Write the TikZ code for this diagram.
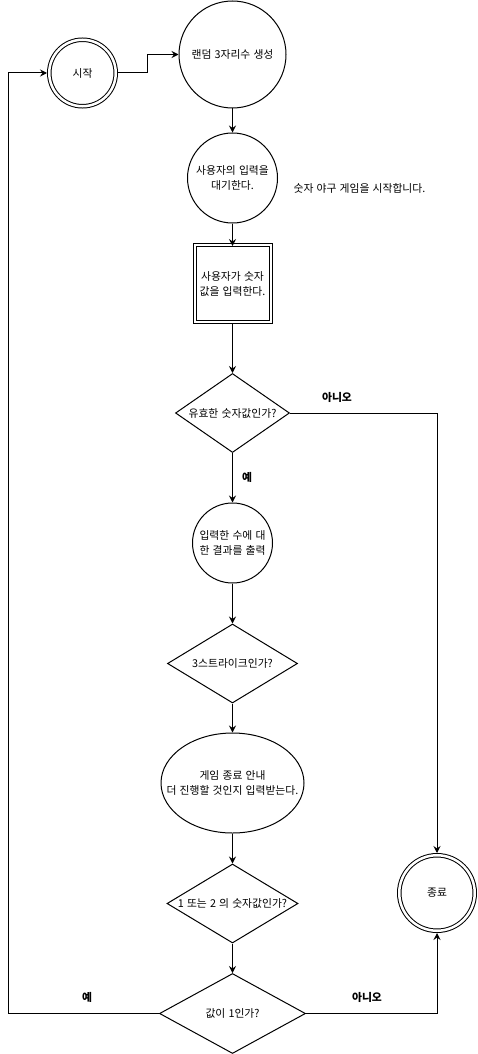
\documentclass[tikz,border=0pt]{standalone}
\usepackage{fontspec}
\setmainfont{Noto Sans CJK KR}[WordSpace=1.3]
\usetikzlibrary{shapes.geometric,arrows.meta}
\begin{document}
\begin{tikzpicture}[x=1pt,y=-1pt,
  txt/.style={font=\fontsize{10.8}{15}\selectfont, align=center, inner sep=0pt},
  bold/.style={font=\fontsize{10.8}{15}\selectfont\bfseries, inner sep=0pt},
  circ/.style={circle, draw, line width=1pt, inner sep=0pt},
  dcirc/.style={circle, draw, line width=1pt, double, double distance=2.5pt, inner sep=0pt},
  drect/.style={rectangle, draw, line width=1pt, double, double distance=2pt, inner sep=0pt},
  dia/.style={diamond, draw, line width=1pt, inner sep=0pt},
  ell/.style={ellipse, draw, line width=1pt, inner sep=0pt},
  conn/.style={draw, line width=1pt, -{Stealth[length=7pt,width=7pt,inset=2.5pt]}},
  txtlab/.style={label={[txt]center:#1}}
]
\useasboundingbox (0,0) rectangle (478,1054);

\node[dcirc, minimum size=66.5pt, txtlab={시작}] (start) at (82.5,73) {};
\node[circ, minimum size=107pt, txtlab={랜덤 3자리수 생성}] (rand) at (232.5,54.5) {};
\node[circ, minimum size=90pt, txtlab={사용자의 입력을\\대기한다.}] (wait) at (232.5,178) {};
\node[txt] (note) at (359.5,188) {숫자 야구 게임을 시작합니다.};
\node[drect, minimum width=76pt, minimum height=77pt, txtlab={사용자가 숫자\\값을 입력한다.}] (inp) at (232.5,283.5) {};
\node[dia, minimum width=114pt, minimum height=79pt, txtlab={유효한 숫자값인가?}] (valid) at (232.5,413) {};
\node[circ, minimum size=80pt, txtlab={입력한 수에 대\\한 결과를 출력}] (res) at (232.5,543) {};
\node[dia, minimum width=130pt, minimum height=79pt, txtlab={3스트라이크인가?}] (strike) at (232.5,663.5) {};
\node[ell, minimum width=143pt, minimum height=100pt, txtlab={게임 종료 안내\\더 진행할 것인지 입력받는다.}] (guide) at (232.5,783) {};
\node[dia, minimum width=131pt, minimum height=79pt, txtlab={1 또는 2 의 숫자값인가?}] (d12) at (232.5,903.5) {};
\node[dia, minimum width=146pt, minimum height=80pt, txtlab={값이 1인가?}] (isone) at (232.5,1013.5) {};
\node[dcirc, minimum size=75.5pt, txtlab={종료}] (fin) at (437,893) {};

\node[bold] (no1) at (337,397) {아니오};
\node[bold] (yes1) at (247,477) {예};
\node[bold] (yes2) at (87,997) {예};
\node[bold] (no2) at (367,997) {아니오};

\coordinate (lft) at (8,73);

\draw[conn, shorten <=1.75pt] (start.east) -- ++(31,0) |- (rand.west);
\draw[conn] (rand.south) -- (wait.north);
\draw[conn] (wait.south) -- ([yshift=-1.5pt]inp.north);
\draw[conn, shorten <=1.5pt] (inp.south) -- (valid.north);
\draw[conn] (valid.south) -- (res.north);
\draw[conn, shorten >=1.75pt] (valid.east) -| (fin.north);
\draw[conn] (res.south) -- (strike.north);
\draw[conn] (strike.south) -- (guide.north);
\draw[conn] (guide.south) -- (d12.north);
\draw[conn] (d12.south) -- (isone.north);
\draw[conn, shorten >=1.75pt] (isone.west) -| (lft) -- (start.west);
\draw[conn, shorten >=1.75pt] (isone.east) -| (fin.south);
\end{tikzpicture}
\end{document}
